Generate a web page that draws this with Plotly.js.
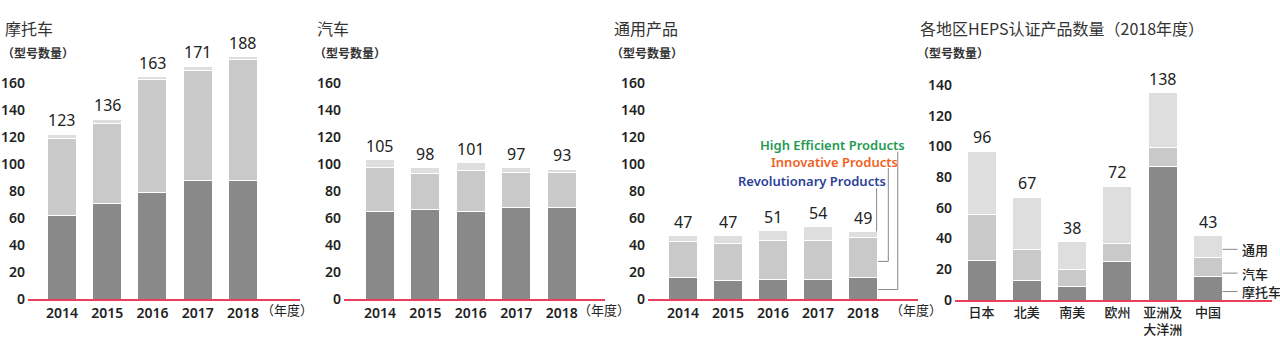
<!DOCTYPE html>
<html>
<head>
<meta charset="utf-8">
<script src="https://cdn.plot.ly/plotly-3.0.1.min.js"></script>
<style>html,body{margin:0;padding:0;background:#fff;}#chart{width:1280px;height:350px;}</style>
</head>
<body>
<div id="chart"></div>
<script>
// ---- data ----
const years = ['2014', '2015', '2016', '2017', '2018'];
const motoHigh = [62, 71, 79, 88, 88];
const motoInno = [57, 59, 83, 81, 89];
const motoRevo = [3, 3, 2.5, 3, 2];
const motoTotals = [123, 136, 163, 171, 188];

const autoHigh = [65, 66, 65, 68, 68];
const autoInno = [32, 27, 30, 26, 26];
const autoRevo = [6, 4, 6, 3, 2];
const autoTotals = [105, 98, 101, 97, 93];

const genHigh = [16, 14, 14.5, 14.5, 16];
const genInno = [27, 27, 29, 29, 30];
const genRevo = [4, 6, 7, 10, 4];
const genTotals = [47, 47, 51, 54, 49];

const regions = ['日本', '北美', '南美', '欧州', '亚洲及<br>大洋洲', '中国'];
const regMoto = [26, 13, 9, 25, 87, 15];
const regAuto = [30, 20, 11, 12, 12, 13];
const regGen = [41, 34, 18, 37, 36, 14];
const regTotals = [96, 67, 38, 72, 138, 43];

const yTicks14 = [0, 20, 40, 60, 80, 100, 120, 140, 160];
const yTicksReg = [0, 20, 40, 60, 80, 100, 120, 140];

// ---- styles ----
const C_DARK = '#898989', C_MID = '#c9c9c9', C_LIGHT = '#dedede';
const FONT = 'Noto Sans, Noto Sans CJK SC, sans-serif';
const CJK = 'Noto Sans CJK SC, sans-serif';
const W = 1280, H = 350;
const px = v => v / W, py = v => (H - v) / H;

function bar(x, y, color, xa, ya) {
  return {type: 'bar', x: x, y: y, xaxis: xa, yaxis: ya, width: 0.64,
    marker: {color: color, line: {color: '#ffffff', width: 1}},
    hoverinfo: 'none', showlegend: false};
}

const traces = [
  bar(years, motoHigh, C_DARK, 'x', 'y'),
  bar(years, motoInno, C_MID, 'x', 'y'),
  bar(years, motoRevo, C_LIGHT, 'x', 'y'),
  bar(years, autoHigh, C_DARK, 'x2', 'y2'),
  bar(years, autoInno, C_MID, 'x2', 'y2'),
  bar(years, autoRevo, C_LIGHT, 'x2', 'y2'),
  bar(years, genHigh, C_DARK, 'x3', 'y3'),
  bar(years, genInno, C_MID, 'x3', 'y3'),
  bar(years, genRevo, C_LIGHT, 'x3', 'y3'),
  bar(regions, regMoto, C_DARK, 'x4', 'y4'),
  bar(regions, regAuto, C_MID, 'x4', 'y4'),
  bar(regions, regGen, C_LIGHT, 'x4', 'y4'),
];

function xax(l, r, range) {
  return {domain: [px(l), px(r)], type: 'category', range: range,
    showgrid: false, zeroline: false, showline: true, linecolor: '#e8405a', linewidth: 1.5,
    ticks: '', tickfont: {family: FONT, size: 14, color: '#222', weight: 600}, fixedrange: true};
}
function yax(bottomPx, topPx, range, tickvals, anchor) {
  return {domain: [py(bottomPx), py(topPx)], range: range, anchor: anchor,
    showgrid: false, zeroline: false, showline: false, ticks: '', tickvals: tickvals,
    tickfont: {family: FONT, size: 14, color: '#222', weight: 600}, ticklabelstandoff: 2, fixedrange: true};
}

const annotations = [];
function totals(xa, ya, cats, a, b, c, labels) {
  cats.forEach((cat, i) => {
    annotations.push({xref: xa, yref: ya, x: i, y: a[i] + b[i] + c[i], text: String(labels[i]),
      showarrow: false, yanchor: 'bottom', yshift: 1,
      font: {family: FONT, size: 16, color: '#222'}});
  });
}
totals('x', 'y', years, motoHigh, motoInno, motoRevo, motoTotals);
totals('x2', 'y2', years, autoHigh, autoInno, autoRevo, autoTotals);
totals('x3', 'y3', years, genHigh, genInno, genRevo, genTotals);
totals('x4', 'y4', regions, regMoto, regAuto, regGen, regTotals);

function title(x, text, sub) {
  annotations.push({xref: 'paper', yref: 'paper', x: px(x), y: py(28), xanchor: 'left', yanchor: 'middle',
    text: text, showarrow: false, font: {family: CJK, size: 16, color: '#333'}});
  annotations.push({xref: 'paper', yref: 'paper', x: px(x - 3), y: py(52), xanchor: 'left', yanchor: 'middle',
    text: '（型号数量）', showarrow: false, font: {family: CJK, size: 12, color: '#333', weight: 600}});
}
title(3, '摩托车');
title(315, '汽车');
title(612, '通用产品');
title(918, '各地区HEPS认证产品数量（2018年度）');

function nendo(leftPx) {
  annotations.push({xref: 'paper', yref: 'paper', x: px(leftPx), y: py(309.5), xanchor: 'left', yanchor: 'middle',
    text: '（年度）', showarrow: false, font: {family: CJK, size: 13, color: '#222'}});
}
nendo(259); nendo(576); nendo(888);

// legend labels for 通用产品 panel
const legendTexts = [
  {t: 'High Efficient Products', c: '#1f9a52', x: 4.97, y: 114},
  {t: 'Innovative Products', c: '#f0601e', x: 4.82, y: 101.5},
  {t: 'Revolutionary Products', c: '#2e3f98', x: 4.56, y: 87.5},
];
legendTexts.forEach(o => annotations.push({xref: 'x3', yref: 'y3', x: o.x, y: o.y, xanchor: 'right', yanchor: 'middle',
  text: o.t, showarrow: false, font: {family: FONT, size: 13, color: o.c, weight: 600}}));

// legend labels for region panel
const regLegend = [{t: '通用', y: 33}, {t: '汽车', y: 17.5}, {t: '摩托车', y: 5.5}];
const shapes = [];
regLegend.forEach(o => {
  annotations.push({xref: 'x4', yref: 'y4', x: 5.7, y: o.y, xanchor: 'left', yanchor: 'middle',
    text: o.t, showarrow: false, font: {family: CJK, size: 13, color: '#222', weight: 500}});
  shapes.push({type: 'line', xref: 'x4', yref: 'y4', x0: 5.32, x1: 5.65, y0: o.y, y1: o.y,
    line: {color: '#888', width: 1}});
});

// leader lines for 通用产品 panel (2018 bar)
const last = 4;
const lineStyle = {color: '#888', width: 1};
const topLast = genHigh[last] + genInno[last] + genRevo[last];
shapes.push({type: 'line', xref: 'x3', yref: 'y3', x0: 4.3, x1: 4.3, y0: topLast, y1: 82, line: lineStyle});
const innoY = genHigh[last] + genInno[last] * 0.4;
shapes.push({type: 'line', xref: 'x3', yref: 'y3', x0: 4.56, x1: 4.56, y0: innoY, y1: 97, line: lineStyle});
shapes.push({type: 'line', xref: 'x3', yref: 'y3', x0: 4.33, x1: 4.56, y0: innoY, y1: innoY, line: lineStyle});
const highY = genHigh[last] * 0.45;
shapes.push({type: 'line', xref: 'x3', yref: 'y3', x0: 4.77, x1: 4.77, y0: highY, y1: 109, line: lineStyle});
shapes.push({type: 'line', xref: 'x3', yref: 'y3', x0: 4.33, x1: 4.77, y0: highY, y1: highY, line: lineStyle});

const layout = {
  width: W, height: H, margin: {l: 0, r: 0, t: 0, b: 0},
  paper_bgcolor: '#fff', plot_bgcolor: '#fff', barmode: 'stack', bargap: 0.36,
  showlegend: false,
  xaxis: xax(28, 300, [-0.75, 5.26]),
  yaxis: yax(299.3, 42, [0, 190], yTicks14, 'x'),
  xaxis2: Object.assign(xax(344, 605, [-0.79, 4.95]), {anchor: 'y2'}),
  yaxis2: yax(299.3, 42, [0, 190], yTicks14, 'x2'),
  xaxis3: Object.assign(xax(648, 918, [-0.78, 5.22]), {anchor: 'y3'}),
  yaxis3: yax(299.3, 42, [0, 190], yTicks14, 'x3'),
  xaxis4: Object.assign(xax(955, 1272, [-0.585, 6.41]),
    {anchor: 'y4', tickfont: {family: CJK, size: 13, color: '#222', weight: 500}}),
  yaxis4: yax(300, 46.6, [0, 165], yTicksReg, 'x4'),
  annotations: annotations,
  shapes: shapes,
};
layout.xaxis.anchor = 'y';

Plotly.newPlot('chart', traces, layout, {displayModeBar: false, staticPlot: true});
</script>
</body>
</html>
